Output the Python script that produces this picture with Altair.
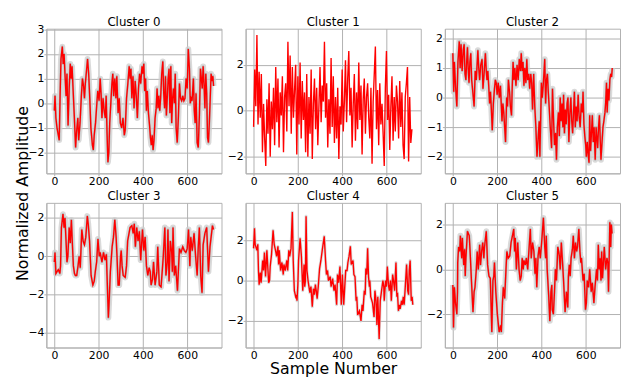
import altair as alt
import pandas as pd

# ---------------- data ----------------
c0_x = [0, 3, 7, 12, 18, 22, 26, 30, 36, 40, 44, 48, 53, 57, 62, 67, 72, 76, 80, 85, 90, 96, 100, 106, 110, 116, 122, 127, 132, 136, 140, 145, 150, 155, 160, 165, 172, 176, 180, 186, 192, 196, 202, 207, 211, 215, 220, 225, 230, 234, 238, 242, 246, 250, 255, 260, 264, 268, 273, 278, 282, 288, 293, 298, 304, 310, 316, 320, 326, 332, 338, 342, 346, 350, 355, 360, 365, 370, 375, 380, 385, 390, 396, 400, 404, 408, 412, 416, 420, 425, 430, 434, 438, 442, 446, 450, 455, 460, 464, 468, 472, 476, 480, 485, 490, 494, 498, 502, 506, 510, 514, 518, 522, 526, 530, 534, 538, 542, 546, 550, 555, 560, 565, 570, 575, 580, 585, 590, 595, 600, 605, 610, 614, 618, 622, 628, 632, 636, 640, 645, 650, 655, 660, 664, 668, 672, 676, 680, 684, 688, 692, 696, 700, 704, 708, 712, 716, 719]
c0_y = [-0.3, 0.3, -0.6, -1.0, -1.3, -1.5, 0.3, 1.8, 2.3, 1.6, 2.0, 1.2, 0.3, 1.2, -0.9, 0.6, 1.6, 1.0, 1.5, 0.5, -0.5, -1.8, -1.2, -0.6, -1.5, -0.8, 0.3, 1.0, 0.7, 0.2, 0.8, 1.3, 1.8, 1.2, 0.2, -1.0, -1.7, -1.9, -1.3, -0.8, 0.0, 0.5, 0.1, 1.0, 0.4, -0.6, 0.2, -0.3, -0.6, 0.3, -1.2, -2.4, -2.0, -0.8, 0.0, 0.8, 1.2, 0.3, 1.0, 0.2, 1.1, -0.4, 0.2, -0.8, -1.0, -0.6, -1.3, -1.1, 0.2, 0.8, 1.5, 1.0, 1.4, 0.2, 1.1, -0.2, 0.9, 0.3, -0.6, 0.6, 1.2, 0.8, 1.5, 1.2, 1.6, 0.5, 1.0, -0.3, 0.5, -0.4, -0.9, -1.4, -1.7, -1.3, -1.9, -1.5, -0.6, -0.2, 0.6, -0.2, 0.3, -0.3, 0.2, 1.2, 1.7, 0.4, -0.2, 1.1, -0.5, 0.2, 1.0, 1.4, -0.4, 1.5, -0.8, 0.2, 0.6, 0.0, 1.2, -1.0, -1.6, -0.6, 0.8, 0.2, 0.1, 0.3, 0.1, 0.2, 1.0, 0.6, 2.2, 1.4, 0.0, 0.2, 0.1, 1.0, -0.3, -0.8, 0.4, -1.6, -1.8, -0.5, 1.4, 1.0, 0.6, 1.5, 0.8, -0.2, 1.2, 0.4, -1.4, -1.6, -0.8, 0.2, 1.2, 0.9, 1.1, 0.7]

c1_x = list(range(0, 720, 5))
c1_y = [-0.7, 1.8, 0.2, 3.3, -0.6, 1.7, -0.3, 1.6, -1.8, 0.3,
        -1.2, -2.4, 0.5, -1.0, 1.2, -2.0, 0.4, -0.8, 1.0, -1.5,
        1.9, -0.5, 1.4, -1.6, 0.8, -0.2, 1.5, -1.8, 0.6, 1.2,
        -0.9, 3.0, 0.2, 2.4, -1.0, 1.9, -0.3, 0.9, 2.0, -1.9,
        1.5, -0.6, 2.1, -1.2, 1.3, -0.4, 0.8, -1.8, 1.6, -2.0,
        0.6, -1.0, 1.8, -2.1, 0.3, 1.4, -0.8, 1.0, -1.5, 0.2,
        1.9, -0.5, 1.1, 0.4, 3.0, -0.3, 1.2, -1.6, 0.5, -1.0,
        2.3, -0.7, 1.5, -1.4, 0.6, -1.2, 1.0, -2.1, 0.2, -0.6,
        1.8, -0.9, 0.4, 2.2, -0.5, 1.4, 2.6, -0.2, 1.0, -1.6,
        0.3, 1.6, -1.3, 0.8, -0.8, 2.1, -0.4, 1.1, -1.9, 0.5,
        1.4, -1.0, 0.6, 1.2, -0.3, -1.2, 1.0, -2.3, 0.4, 1.6,
        2.8, -0.8, 0.9, -1.5, 1.2, -0.6, 0.3, -1.0, -2.4, 1.0,
        2.6, -0.4, 0.7, -1.7, 0.2, 1.5, -1.3, 0.6, -0.9, 1.1,
        0.4, -1.2, 1.3, -0.7, 0.8, -1.5, -2.1, 0.6, 1.2, 1.9,
        -2.2, 0.6, -1.4, -0.8]

c2_x = [0, 4, 7, 12, 18, 23, 29, 33, 37, 42, 47, 51, 55, 59, 63, 66, 70, 73, 77, 81, 85, 90, 96, 101, 106, 113, 117, 121, 126, 132, 136, 141, 147, 151, 154, 158, 162, 166, 170, 174, 178, 183, 188, 192, 196, 200, 205, 210, 215, 222, 226, 230, 234, 238, 243, 247, 251, 256, 260, 265, 268, 272, 276, 280, 285, 290, 295, 300, 305, 309, 313, 317, 321, 325, 330, 334, 338, 343, 347, 352, 356, 360, 365, 370, 375, 380, 385, 390, 393, 397, 400, 404, 408, 412, 415, 419, 423, 427, 431, 435, 440, 446, 450, 455, 459, 464, 468, 472, 477, 481, 485, 489, 493, 497, 500, 504, 508, 512, 516, 520, 524, 528, 533, 537, 541, 545, 549, 553, 557, 561, 566, 570, 575, 580, 585, 588, 592, 596, 600, 603, 607, 611, 615, 618, 622, 626, 630, 634, 638, 643, 647, 651, 654, 658, 662, 666, 669, 673, 678, 682, 687, 690, 694, 697, 701, 705, 709, 713, 717, 720]
c2_y = [1.5, 0.2, 1.2, 0.4, -0.3, 1.2, 1.9, 1.0, 1.8, 0.9, 1.6, 1.8, 0.8, 0.6, 1.3, 1.7, 0.9, 0.5, 1.2, 1.5, 0.6, 0.2, -0.3, 0.9, 0.6, 1.6, 1.0, 0.6, 1.1, 1.3, 0.3, 0.8, 1.5, 0.9, 0.6, 0.9, 0.4, -0.2, 0.2, -0.4, -1.1, -0.2, 0.3, 0.6, 0.5, 0.1, 0.5, 0.0, 0.4, -0.8, -0.2, -0.5, -1.0, -1.5, 0.0, -0.3, 0.6, 0.2, -0.3, -0.6, 0.3, 1.2, 0.6, 1.0, 0.4, 1.1, 0.6, 1.3, 0.9, 1.5, 0.9, 1.2, 0.4, 1.0, 0.5, 1.3, 0.6, 0.8, 0.3, 0.8, 0.5, -0.4, 0.8, -0.3, -1.0, -2.0, -1.4, -0.8, -2.0, -0.6, 0.5, 0.0, 0.4, 0.9, 1.3, -0.2, 0.6, 0.8, 0.2, -0.3, -1.0, -1.7, 0.3, -0.8, -1.6, -1.2, -2.1, -1.0, -0.5, -1.3, 0.0, -0.8, -0.2, -1.0, 0.1, -1.2, -0.4, -0.9, -0.2, 0.0, -1.5, -0.6, 0.0, -0.8, -1.2, -0.5, 0.2, -1.0, -0.3, -0.8, 0.1, -0.6, -1.0, -0.2, -0.5, 0.2, -0.9, -1.3, -1.6, -2.0, -1.5, -1.9, -2.2, -0.6, -1.8, -1.2, -0.6, -1.5, -1.0, -2.1, -1.0, -1.4, -1.7, -1.0, -0.6, -1.5, -2.1, -1.6, -1.0, -0.8, -0.5, -0.2, 0.5, -0.5, 0.3, -0.1, 0.6, 0.8, 0.7, 1.0]

c3_x = [0, 3, 7, 12, 18, 25, 28, 32, 36, 39, 44, 48, 54, 57, 61, 67, 72, 77, 82, 86, 91, 95, 101, 107, 112, 117, 124, 130, 136, 142, 149, 153, 159, 166, 174, 180, 185, 191, 197, 203, 207, 215, 222, 229, 235, 238, 244, 247, 253, 261, 267, 273, 279, 283, 288, 293, 299, 302, 306, 311, 320, 326, 331, 342, 350, 356, 361, 366, 372, 378, 384, 390, 398, 404, 410, 416, 422, 428, 433, 437, 443, 448, 455, 463, 467, 474, 482, 489, 492, 499, 504, 510, 513, 518, 524, 530, 533, 536, 542, 548, 556, 562, 565, 572, 580, 587, 594, 600, 606, 612, 616, 623, 631, 638, 645, 650, 655, 661, 667, 672, 680, 688, 696, 703, 714, 719]
c3_y = [-0.3, 0.2, -0.9, -0.8, -0.7, -0.9, -0.5, 1.5, 1.9, 2.2, 1.5, 2.0, 0.5, -0.3, 0.0, 1.5, 0.7, 1.9, 0.5, -0.5, -0.9, -1.0, -1.0, -0.5, 0.0, -0.6, 1.4, 0.8, 0.6, 1.0, 2.1, 1.7, 0.8, -1.0, -1.5, -1.3, -0.8, -0.3, 0.9, 0.0, 0.2, -0.3, 0.2, -0.2, 0.1, -1.0, -3.2, -2.5, -0.8, 0.5, 1.0, 1.9, 1.0, 0.0, -1.5, -1.5, 0.0, 0.3, -0.5, -1.0, -1.1, -0.5, 0.8, 1.5, 1.6, 1.2, 1.7, 0.5, 1.5, 0.8, 1.3, -0.2, 1.4, 0.3, 1.0, -0.5, -1.0, -0.6, -0.8, -1.5, -1.2, -0.3, -1.5, -0.8, 0.5, -1.5, -1.6, -0.5, 0.0, 1.5, -1.0, -0.3, 1.4, -1.3, 0.8, 0.2, -0.8, 1.5, -1.0, -0.5, -1.8, -0.3, 0.4, 0.2, 0.5, 0.3, 0.2, 0.4, 1.4, -0.5, 1.0, 0.3, 1.2, 0.0, -1.0, 0.5, 1.5, -1.0, -1.9, 0.6, 1.2, 1.5, -0.8, 0.5, 1.6, 1.4]

c4_x = [0, 4, 7, 15, 19, 22, 25, 30, 34, 41, 45, 49, 54, 60, 68, 72, 75, 81, 88, 93, 99, 104, 110, 113, 116, 122, 128, 134, 137, 143, 150, 154, 159, 163, 169, 175, 179, 184, 190, 193, 196, 200, 203, 210, 216, 222, 228, 231, 234, 237, 241, 246, 250, 254, 259, 265, 270, 275, 279, 283, 287, 292, 298, 304, 310, 319, 325, 329, 334, 338, 346, 350, 357, 363, 368, 375, 379, 384, 390, 396, 401, 407, 416, 422, 426, 431, 437, 441, 449, 453, 458, 463, 466, 470, 478, 485, 490, 494, 500, 504, 507, 511, 515, 519, 523, 525, 529, 537, 544, 548, 553, 557, 561, 567, 572, 578, 584, 588, 590, 596, 600, 604, 609, 613, 618, 622, 628, 632, 637, 643, 647, 650, 654, 659, 662, 668, 672, 676, 680, 684, 691, 696, 700, 703, 707, 712, 716, 719]
c4_y = [1.6, 2.6, 1.8, 1.5, 1.8, 0.5, -0.2, 0.4, -0.1, 1.0, 0.5, 1.4, 0.2, 1.5, -0.1, 0.0, 0.7, 1.3, 2.5, 1.8, 1.5, 1.2, 1.7, 0.8, 1.5, 0.5, 0.9, 0.3, 0.8, 0.5, 1.0, 0.5, 1.5, 1.2, 1.6, 3.4, 1.0, -0.5, -0.8, -0.7, -1.0, -0.2, 1.0, 2.1, 1.2, -0.5, 0.8, -0.3, 0.0, 3.2, 0.5, 0.0, -0.3, -0.6, -0.3, -1.3, -0.4, -0.7, -0.2, -0.5, -0.9, -0.3, 0.6, 1.0, 1.5, 2.2, 1.0, 0.3, 0.5, 0.0, 0.2, -0.3, 0.1, -0.5, -0.2, -1.2, 0.3, -0.1, 0.7, -1.2, 0.3, -1.2, 0.5, 0.5, 0.9, 1.2, 1.7, 0.8, 1.0, 0.3, 0.2, -1.0, -0.8, -1.7, -1.5, -2.0, -1.2, -1.5, -0.5, -0.7, 0.6, 0.3, 1.6, 0.2, -0.3, 0.0, -0.8, -1.1, -1.8, -0.5, -1.0, -2.2, -0.8, -2.9, -1.0, -0.5, 0.0, -0.3, -1.0, 0.0, -0.3, 0.7, -0.2, -0.5, 0.0, -1.0, 0.3, 0.0, -0.5, 0.9, -0.8, -0.6, -1.5, -1.2, -1.4, -1.0, -1.2, -0.8, -1.2, -0.5, 0.8, -0.5, -0.7, 0.5, 1.0, -1.0, -0.8, -1.2]

c5_x = [0, 3, 7, 12, 18, 21, 22, 26, 31, 34, 40, 43, 49, 53, 56, 59, 66, 74, 78, 84, 91, 96, 100, 106, 110, 115, 121, 125, 130, 135, 140, 143, 151, 157, 163, 169, 171, 176, 181, 185, 188, 194, 201, 209, 216, 219, 224, 228, 234, 240, 244, 250, 257, 263, 269, 275, 279, 282, 287, 293, 299, 304, 309, 313, 318, 321, 327, 332, 338, 350, 354, 360, 366, 371, 375, 379, 385, 390, 395, 401, 409, 415, 419, 422, 426, 429, 433, 438, 443, 447, 449, 454, 459, 463, 468, 474, 478, 481, 485, 490, 496, 500, 507, 513, 519, 522, 526, 530, 534, 540, 544, 549, 554, 559, 563, 569, 574, 578, 581, 588, 593, 599, 603, 607, 613, 618, 625, 630, 637, 642, 649, 653, 657, 661, 665, 669, 672, 676, 684, 690, 696, 700, 703, 706, 709, 713, 716, 719]
c5_y = [-0.7, -2.6, -0.8, -1.5, -2.0, -1.0, 0.3, 1.0, 0.8, 1.5, 0.5, 1.4, 0.2, 0.9, -0.3, 0.5, 1.7, 1.5, 0.8, -0.5, -1.9, -1.0, -0.8, 0.0, 0.8, 0.0, 1.1, 0.2, 0.8, 1.2, 0.5, 1.0, 1.7, 0.2, -0.3, -0.4, -1.0, -2.8, -0.5, -0.3, 0.3, -1.0, -2.0, -2.8, -2.5, -2.8, -1.5, -0.8, -1.3, 0.0, 0.8, 0.5, 0.6, 1.2, 1.5, 1.8, 0.8, 1.4, 0.0, 1.2, 0.0, -0.5, -0.3, 0.5, 0.0, 0.4, 0.2, 0.5, 0.0, 1.8, 0.5, 1.2, 0.8, -0.2, 0.5, -0.8, 0.6, 1.0, 0.5, 1.2, 2.3, 1.0, 0.5, 1.5, 0.0, -0.5, -1.2, -2.3, -1.0, -0.7, -1.8, -2.0, -1.0, 0.0, -0.5, 1.0, 0.8, 0.6, 0.0, 1.2, 0.2, -0.5, -1.9, -1.0, -1.7, -0.3, 0.2, -0.3, 0.5, 0.9, 1.5, 0.5, 1.2, 0.8, 1.0, 1.8, 0.8, 0.3, 0.5, -0.5, -0.2, -1.8, -1.5, -0.5, -0.8, 0.0, -1.0, -0.6, -1.5, -0.8, 0.0, -0.5, 1.1, 0.0, 0.5, -0.5, 0.8, -0.4, 1.0, 0.0, 0.5, 0.3, -1.0, 0.5, 2.1, 1.0, 2.0, 1.6]

titles = ["Cluster 0", "Cluster 1", "Cluster 2", "Cluster 3", "Cluster 4", "Cluster 5"]
clusters = [(c0_x, c0_y), (c1_x, c1_y), (c2_x, c2_y), (c3_x, c3_y), (c4_x, c4_y), (c5_x, c5_y)]
y_domains = [[-2.85, 3.03], [-2.72, 3.57], [-2.56, 2.33], [-4.76, 2.79], [-3.32, 3.86], [-3.49, 2.97]]
y_ticks = [[-2, -1, 0, 1, 2, 3], [-2, 0, 2], [-2, -1, 0, 1, 2], [-4, -2, 0, 2], [-2, 0, 2], [-2, 0, 2]]
x_ticks = [0, 200, 400, 600]
x_domain = [-36, 755]

# ---------------- styling ----------------
FONT = "DejaVu Sans"
GRID = "#b0b0b0"
halo_width = [6, 0, 6, 6, 3, 6]
PW, PH = 178, 147


def panel(i):
    xs, ys = clusters[i]
    df = pd.DataFrame({"sample": xs, "amp": ys})
    x_axis = alt.Axis(values=x_ticks, title=None)
    y_axis = alt.Axis(values=y_ticks[i], title=None)
    if i == 4:
        x_axis = alt.Axis(values=x_ticks, title="Sample Number", titleY=26,
                          titleBaseline="alphabetic")
    if i == 3:
        y_axis = alt.Axis(values=y_ticks[i], title="Normalized Amplitude",
                          titleX=-19, titleY=-10, titleBaseline="alphabetic")
    base = alt.Chart(df).encode(
        x=alt.X("sample:Q", scale=alt.Scale(domain=x_domain, nice=False, zero=False), axis=x_axis),
        y=alt.Y("amp:Q", scale=alt.Scale(domain=y_domains[i], nice=False, zero=False), axis=y_axis),
    )
    layers = []
    if halo_width[i]:
        layers.append(base.mark_line(color="#cdcdcd", strokeWidth=halo_width[i], opacity=0.75,
                                     clip=True, strokeJoin="round"))
        if halo_width[i] > 3:
            layers.append(base.mark_line(color="#8a8a8a", strokeWidth=2.2, opacity=0.45,
                                         clip=True, strokeJoin="round"))
    layers.append(base.mark_line(color="#ff0000", strokeWidth=1.4, clip=True))
    title_df = pd.DataFrame({"label": [titles[i]]})
    layers.append(
        alt.Chart(title_df).mark_text(font=FONT, fontSize=12, baseline="alphabetic", align="center",
                                      color="#000000").encode(
            text="label:N", x=alt.value(PW / 2), y=alt.value(-2.5))
    )
    return alt.layer(*layers).properties(width=PW, height=PH)


chart = alt.concat(*[panel(i) for i in range(6)], columns=3, spacing={"row": 30, "column": 24.5},
                   bounds="flush").properties(
    padding={"left": 6, "top": 5, "right": 0, "bottom": 0}
).configure_axis(
    domainColor=GRID, gridColor=GRID, gridWidth=1, tickColor=GRID, tickSize=2.5,
    labelFont=FONT, labelFontSize=11, labelColor="#000000", labelPadding=0,
    titleFont=FONT, titleFontSize=16, titleFontWeight="normal", titleColor="#000000",
).configure_view(stroke=GRID, strokeWidth=1)

chart.save("out.html", embed_options={"renderer": "svg", "actions": False})
